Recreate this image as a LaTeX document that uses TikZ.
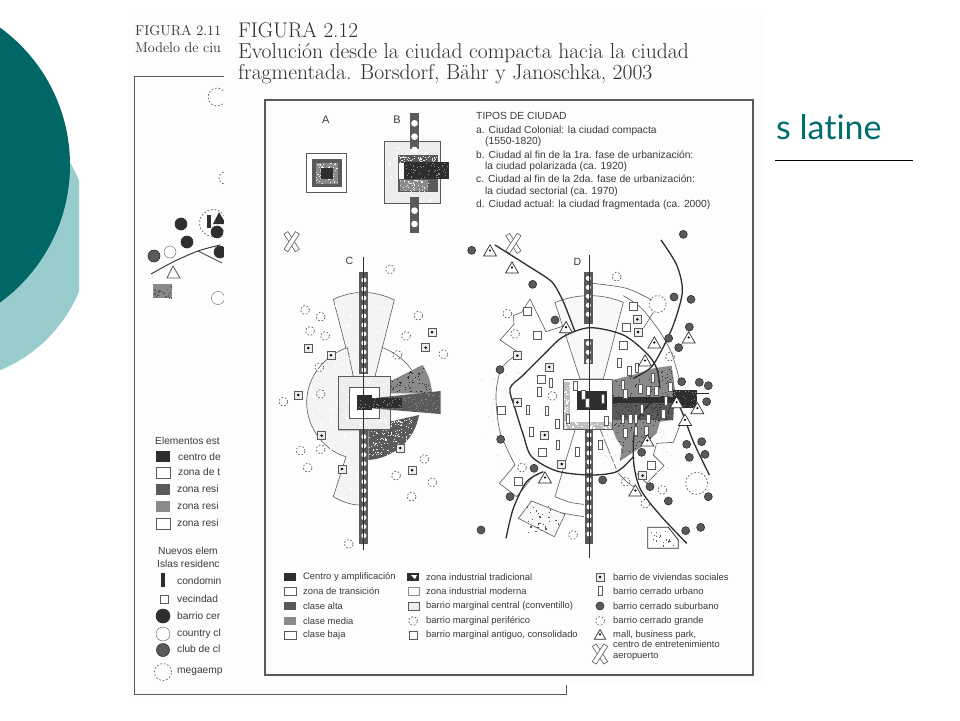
\documentclass[tikz,border=0pt]{standalone}
\usepackage{fontspec}
\usetikzlibrary{shapes.geometric}
\newfontfamily\lsans{Liberation Sans}
\newfontfamily\slide[Ligatures=NoCommon]{Lato}
\definecolor{tealD}{HTML}{006666}
\definecolor{tealL}{HTML}{99CCCC}
\definecolor{tealT}{HTML}{006E6E}
\definecolor{paper}{HTML}{FDFDFB}
\definecolor{ink}{HTML}{3A3A3A}
\definecolor{lite}{HTML}{EDEDED}
\definecolor{midg}{HTML}{8A8A8A}
\definecolor{darkg}{HTML}{5A5A5A}
\definecolor{deep}{HTML}{2E2E2E}
\tikzset{
 lbl/.style={font=\lsans\fontsize{9.4}{10}\selectfont,text=ink,anchor=west,inner sep=0pt},
 lbt/.style={font=\lsans\fontsize{10.3}{11}\selectfont,text=ink,anchor=west,inner sep=0pt},
 lbs/.style={font=\lsans\fontsize{10.2}{11}\selectfont,text=ink,anchor=west,inner sep=0pt},
 ttl/.style={font=\fontsize{21.6}{22}\selectfont,text=deep,anchor=west,inner sep=0pt},
 thin line/.style={draw=darkg,line width=.6pt},
 road/.style={draw=deep,line width=1.3pt},
 sqo/.style={rectangle,draw=darkg,fill=white,minimum size=8pt,inner sep=0pt,line width=.7pt},
 svs/.style={rectangle,draw=darkg,fill=lite,minimum size=8pt,inner sep=0pt,line width=.7pt,
   path picture={\fill[black] (path picture bounding box.center) circle (1.4pt);}},
 dsh/.style={circle,draw=darkg,dash pattern=on 1.6pt off 2pt,minimum size=9pt,inner sep=0pt,line width=.7pt},
 sub/.style={circle,fill=darkg,draw=deep,minimum size=8pt,inner sep=0pt,line width=.6pt},
 tri/.style={regular polygon,regular polygon sides=3,draw=deep,fill=white,minimum size=15pt,inner sep=0pt,line width=.7pt,
   path picture={\fill[black] (path picture bounding box.center) circle (1.2pt);}},
 slot/.style={rectangle,draw=darkg,fill=white,minimum width=3.6pt,minimum height=9pt,inner sep=0pt,line width=.6pt},
 bar/.style={rectangle,draw=darkg,fill=white,minimum width=4.6pt,minimum height=21pt,inner sep=0pt,line width=.6pt},
}
% speckle: count, x0, x1, y0, y1, colour, size
\newcommand\speck[7]{\foreach \i in {1,...,#1}{%
  \pgfmathsetmacro\sx{#2+rnd*(#3-#2)}\pgfmathsetmacro\sy{#4+rnd*(#5-#4)}%
  \fill[#6] (\sx,\sy) rectangle ++(#7,#7);}}
% corridor: x0,y0,x1,y1, first dot y, next dot y, last dot y
\newcommand\corrR{7.5}
\newcommand\corr[7]{\fill[darkg] (#1,#2) rectangle (#3,#4);
  \foreach \yy in {#5,#6,...,#7}{\fill[white] ({(#1+#3)/2},\yy) circle (\corrR);}}
\newcommand\airport[1]{\node[bar,rotate=33] at #1 {};\node[bar,rotate=-33] at #1 {};}
\begin{document}
\begin{tikzpicture}[x=1pt,y=-1pt]
\useasboundingbox (0,0) rectangle (960,720);
\fill[white] (0,0) rectangle (960,720);
% slide decoration
\begin{scope}
 \clip (0,0) rectangle (79,720);
 \fill[tealL] (-55,236) circle (145);
\end{scope}
\begin{scope}
 \clip (0,0) rectangle (79,720);
 \fill[tealD] (-100,165) circle (170);
\end{scope}
% left paper (figure 2.11)
\fill[paper] (128,15) rectangle (566,698);
\node[font=\fontsize{14.3}{15}\selectfont,text=deep,anchor=west,inner sep=0pt] (f11a) at (135,31) {FIGURA 2.11};
\node[font=\fontsize{14.2}{15}\selectfont,text=deep,anchor=west,inner sep=0pt] (f11b) at (135,48) {Modelo de ciu};
\draw[draw=darkg,line width=1pt] (230,76) -- (134,76) -- (134,694) -- (566,694) -- (566,685);
\draw[road,line width=.9pt] plot[smooth] coordinates {(151,274) (173,262) (198,251) (220,245)};
\draw[thin line,line width=.9pt] (198,251) -- (222,263);
\node[dsh,minimum size=18pt] (d1) at (217,97) {};
\node[dsh,minimum size=12pt] (d2) at (225,178) {};
\node[dsh,minimum size=27pt] (d3) at (213,223) {};
\node[sub,fill=deep,minimum size=12pt] (c1) at (181,224) {};
\node[sub,fill=deep,minimum size=12pt] (c2) at (187,242) {};
\node[sub,minimum size=12pt] (c3) at (154,256) {};
\node[circle,draw=darkg,fill=white,minimum size=12pt,inner sep=0pt] (c4) at (170,252) {};
\fill[deep] (207,215) rectangle (211,228);
\fill[deep] (213,224) -- (219,212) -- (226,224) -- cycle;
\node[sub,fill=deep,minimum size=12pt] (c5) at (217,232) {};
\node[sub,fill=deep,minimum size=12pt] (c6) at (220,252) {};
\draw[darkg,line width=.8pt] (173,266) -- (167,278) -- (180,278) -- cycle;
\fill[midg] (153,284) rectangle (172,298);
\begin{scope}\clip (153,284) rectangle (172,298);
 \speck{20}{153}{172}{284}{298}{darkg}{1.5}
\end{scope}
\node[circle,draw=darkg,fill=white,minimum size=13pt,inner sep=0pt] (c7) at (218,298) {};
% left legend
\node[lbs] (e0) at (155,441) {Elementos est};
\fill[deep] (156,451) rectangle (170,462);
\node[lbs] (e1) at (178,457) {centro de};
\draw[darkg,fill=white] (156,467) rectangle (170,478);
\node[lbs] (e2) at (178,472) {zona de t};
\fill[darkg] (156,484) rectangle (170,495);
\node[lbs] (e3) at (177,489) {zona resi};
\fill[midg] (156,501) rectangle (170,512);
\node[lbs] (e4) at (177,506) {zona resi};
\draw[darkg,fill=white] (156,518) rectangle (170,529);
\node[lbs] (e5) at (177,523) {zona resi};
\node[lbs] (e6) at (158,551) {Nuevos elem};
\node[lbs] (e7) at (157,564) {Islas residenc};
\fill[deep] (161,573) rectangle (165,587);
\node[lbs] (e8) at (177,581) {condomin};
\node[sqo] (e9s) at (164,599) {};
\node[lbs] (e9) at (177,599) {vecindad};
\node[sub,fill=deep,minimum size=14pt] (e10s) at (163,616) {};
\node[lbs] (e10) at (177,616) {barrio cer};
\node[circle,draw=darkg,fill=white,minimum size=14pt,inner sep=0pt] (e11s) at (163,634) {};
\node[lbs] (e11) at (177,634) {country cl};
\node[sub,minimum size=13pt] (e12s) at (163,650) {};
\node[lbs] (e12) at (177,649) {club de cl};
\node[dsh,minimum size=17pt] (e13s) at (163,672) {};
\node[lbs] (e13) at (177,672) {megaemp};
% right paper (figure 2.12)
\fill[paper] (224,15) rectangle (765,685);
\node[ttl,font=\fontsize{21.2}{22}\selectfont] (t1) at (238,30) {FIGURA 2.12};
\node[ttl] (t2) at (238,53) {Evolución desde la ciudad compacta hacia la ciudad};
\node[ttl] (t3) at (238,74) {fragmentada. Borsdorf, Bähr y Janoschka, 2003};
\draw[draw=darkg,line width=1.1pt] (265,100) rectangle (753,675);
% top text
\node[lbt] (tp0) at (476,116) {TIPOS DE CIUDAD};
\node[lbt] (tp1) at (476,131) {a. Ciudad Colonial: la ciudad compacta};
\node[lbt] (tp2) at (485,142) {(1550-1820)};
\node[lbt] (tp3) at (476,155) {b. Ciudad al fin de la 1ra. fase de urbanización:};
\node[lbt] (tp4) at (485,167) {la ciudad polarizada (ca. 1920)};
\node[lbt] (tp5) at (476,179) {c. Ciudad al fin de la 2da. fase de urbanización:};
\node[lbt] (tp6) at (485,192) {la ciudad sectorial (ca. 1970)};
\node[lbt] (tp7) at (476,205) {d. Ciudad actual: la ciudad fragmentada (ca. 2000)};
% A and B
\begin{scope}[shift={(300,105)},scale=1/3]
 \pgfmathsetseed{11}
 \node[lbs,anchor=center,font=\lsans\fontsize{11}{12}\selectfont] (la) at (77,45) {A};
 \node[lbs,anchor=center,font=\lsans\fontsize{11}{12}\selectfont] (lb) at (291,45) {B};
 \draw[thin line,fill=white] (20,145) rectangle (140,263);
 \fill[darkg] (37,163) rectangle (125,247);
 \fill[midg] (47,173) rectangle (115,237);
 \speck{70}{47}{112}{173}{234}{lite}{3}
 \fill[deep] (62,190) rectangle (100,222);
 \draw[thin line,fill=lite] (253,108) rectangle (422,295);
 \speck{80}{256}{418}{112}{290}{white}{4}
 \renewcommand\corrR{10}
 \corr{330}{25}{357}{133}{55}{95}{135}
 \corr{330}{277}{357}{383}{317}{357}{397}
 \fill[darkg] (295,150) rectangle (413,262);
 \fill[midg] (300,225) rectangle (385,258);
 \fill[white] (296,175) rectangle (312,222);
 \speck{60}{298}{410}{152}{170}{lite}{3}
 \speck{50}{298}{385}{225}{258}{lite}{3}
 \fill[deep] (312,170) rectangle (447,222);
 \speck{50}{315}{444}{172}{218}{midg}{3}
\end{scope}
% city C
\begin{scope}[shift={(270,230)},scale=1/3]
 \pgfmathsetseed{7}
 \node[lbs,anchor=center,font=\lsans\fontsize{10.5}{11}\selectfont] (lc) at (238,92) {C};
 \airport{(65,35)}
 \filldraw[thin line,fill=lite!60] (190,208) .. controls (250,180) and (310,180) .. (373,210) -- (315,440) -- (250,440) -- cycle;
 \filldraw[thin line,fill=lite!60] (232,353) .. controls (165,375) and (110,440) .. (110,517) .. controls (110,600) and (170,665) .. (228,680) -- (190,800) .. controls (215,815) and (245,825) .. (268,825) -- (268,600) -- (205,600) -- (205,440) -- (250,440) -- cycle;
 \draw[thin line] (335,352) .. controls (370,365) and (405,390) .. (425,420);
 \begin{scope}
  \clip (190,208) -- (373,210) -- (315,440) -- (250,440) -- cycle;
  \speck{60}{190}{373}{190}{440}{white}{5}
 \end{scope}
 \begin{scope}
  \clip (230,353) -- (110,440) -- (110,600) -- (190,800) -- (268,825) -- (268,440) -- cycle;
  \speck{120}{110}{268}{353}{825}{white}{5}
 \end{scope}
 % dark sectors
 \fill[darkg] (295,600) -- (360,598) -- (360,575) -- (447,555) .. controls (435,630) and (370,685) .. (295,690) -- cycle;
 \begin{scope}
  \clip (295,600) -- (360,598) -- (360,575) -- (447,555) .. controls (435,630) and (370,685) .. (295,690) -- cycle;
  \speck{220}{295}{450}{555}{690}{lite}{3}
 \end{scope}
 \fill[midg] (328,470) -- (458,405) .. controls (475,430) and (483,460) .. (487,490) -- (328,490) -- cycle;
 \begin{scope}
  \clip (328,470) -- (458,405) -- (487,490) -- (328,490) -- cycle;
  \speck{120}{328}{487}{405}{490}{deep}{3}
 \end{scope}
 % squares
 \draw[darkg,line width=.7pt,fill=lite] (205,440) rectangle (360,598);
 \speck{70}{208}{357}{443}{595}{white}{4}
 \draw[darkg,line width=.7pt,fill=white] (237,472) rectangle (328,565);
 % long bar
 \fill[darkg] (305,505) -- (512,483) -- (512,552) -- (305,535) -- cycle;
 \begin{scope}
  \clip (305,505) -- (512,483) -- (512,552) -- (305,535) -- cycle;
  \fill[deep] (300,505) rectangle (395,535);
  \speck{120}{305}{512}{483}{552}{midg}{3}
 \end{scope}
 \fill[deep] (260,494) rectangle (305,541);
 \speck{10}{265}{300}{500}{536}{midg}{3}
 % corridor
 \corr{268}{125}{295}{432}{150}{177}{430}
 \corr{268}{600}{295}{942}{620}{647}{940}
 \draw[deep,line width=.8pt] (281,80) -- (281,960);
 % symbols
 \foreach \p in {(105,240),(152,260),(120,303),(165,318),(148,412),(152,492),(40,515),(92,662),(152,658),(113,713),(360,118),(445,257),(408,318),(382,375),(520,373),(463,687),(378,737),(487,757),(425,800),(236,942)}
   {\node[dsh] at \p {};}
 \foreach \p in {(115,354),(183,376),(85,495),(155,617),(216,717),(391,654),(426,721),(486,307),(467,353)}
   {\node[svs] at \p {};}
\end{scope}
% city D
\begin{scope}[shift={(460,225)},scale=1/3]
 \pgfmathsetseed{5}
 \node[lbs,anchor=center,font=\lsans\fontsize{10.5}{11}\selectfont] (ld) at (352,110) {D};
 \airport{(160,55)}
 % outlines
 \filldraw[thin line,fill=lite!40] (285,233) .. controls (350,205) and (425,205) .. (490,232) -- (430,462) -- (360,462) -- cycle;
 \draw[thin line] (320,300) -- (258,320) -- (210,222) -- (185,262) -- (160,272) -- (162,298) -- (120,345) -- (175,382);
 \draw[thin line] plot[smooth] coordinates {(175,385) (125,430) (108,510) (120,620) (165,720)};
 \draw[thin line] (165,720) -- (118,775) -- (170,815) -- (215,760);
 \draw[thin line] plot[smooth] coordinates {(398,175) (500,190) (575,225)};
 \draw[thin line] (580,262) -- (550,310);
 \draw[thin line] plot[smooth] coordinates {(490,212) (545,250) (600,320)};
 \draw[thin line] plot[smooth] coordinates {(600,320) (635,385) (660,470)};
 \draw[thin line] (345,615) -- (285,815);
 \draw[thin line] plot[smooth] coordinates {(285,815) (330,832) (372,838)};
 \draw[thin line] plot[smooth] coordinates {(210,828) (290,860) (372,875)};
 \draw[thin line] (660,600) -- (640,652) -- (590,655) -- (580,690) -- (612,722) -- (560,775) -- (530,745);
 \draw[thin line] plot[smooth] coordinates {(470,740) (500,770) (530,792)};
 \draw[thin line] (420,612) -- (470,735);
 \filldraw[thin line,fill=lite!40] (215,828) -- (315,868) -- (283,935) -- (175,880) -- cycle;
 \speck{28}{195}{295}{840}{920}{darkg}{4}
 \speck{60}{420}{640}{610}{740}{lite}{5}
 \speck{60}{60}{340}{390}{730}{lite}{5}
 % mass
 \fill[midg] (458,465) -- (520,450) -- (580,430) -- (635,422) -- (645,495) -- (640,585) -- (600,590) -- (590,625) -- (545,665) -- (480,708) -- (485,665) -- (468,640) -- (458,612) -- cycle;
 \begin{scope}
  \clip (458,465) -- (520,450) -- (580,430) -- (635,422) -- (645,495) -- (640,585) -- (600,590) -- (590,625) -- (545,665) -- (480,708) -- (485,665) -- (468,640) -- (458,612) -- cycle;
  \speck{260}{458}{645}{422}{708}{deep}{3}
  \fill[darkg] (458,530) rectangle (640,585);
  \speck{110}{458}{640}{530}{585}{deep}{3}
 \end{scope}
 \fill[deep] (440,517) rectangle (640,535);
 \fill[deep] (640,495) rectangle (710,550);
 \speck{30}{640}{708}{495}{548}{midg}{3}
 \draw[deep,line width=1pt] (640,505) -- (748,505);
 % centre
 \draw[darkg,line width=.7pt,fill=white] (310,462) rectangle (458,612);
 \fill[lite!80!black] (311,470) rectangle (330,611);
 \fill[lite!80!black] (311,590) rectangle (457,611);
 \speck{40}{311}{455}{590}{608}{white}{4}
 \speck{30}{311}{328}{470}{608}{white}{4}
 \fill[deep] (352,497) rectangle (440,555);
 % corridors
 \corr{372}{140}{398}{297}{160}{187}{290}
 \corr{372}{342}{398}{417}{355}{382}{410}
 \corr{374}{615}{400}{958}{630}{657}{950}
 \draw[deep,line width=.8pt] (388,90) -- (388,1000);
 % roads
 \draw[road] plot[smooth] coordinates {(600,490) (590,430) (560,385) (490,330) (390,308) (310,335) (255,385) (190,450) (150,490) (165,550) (190,630) (215,695) (290,738) (390,750) (470,740) (520,695)};
 \draw[road] plot[smooth] coordinates {(680,955) (600,870) (540,790) (520,700) (530,590) (590,520) (650,530) (700,650) (748,750)};
 \draw[road] plot[smooth,tension=.4] coordinates {(105,60) (200,120) (275,170) (310,230) (345,320)};
 \draw[road] plot[smooth] coordinates {(603,45) (650,120) (667,200) (640,300) (600,385) (570,430) (520,460)};
 \draw[road] plot[smooth] coordinates {(138,940) (160,850) (200,770) (250,740)};
 % industrial plot
 \draw[deep,line width=.8pt,fill=white] (563,907) -- (625,907) -- (655,945) -- (655,970) -- (563,970) -- cycle;
 \speck{16}{570}{640}{915}{962}{darkg}{4}
 % symbols
 \foreach \p in {(477,412),(507,438),(530,428),(578,458),(488,478),(540,490),(565,497),(588,497),(630,484),(617,528),(609,565),(495,507),(345,483),(369,510),(382,532),(428,522),(323,581),(439,587),(488,580),(510,580),(527,580),(565,580),(545,552),(495,623),(527,618),(558,617),(420,660),(352,680),(293,660),(292,595),(260,558),(203,553),(214,620),(237,500),(272,473)}
   {\node[slot] at \p {};}
 \foreach \p in {(202,258),(232,330),(519,245),(500,308),(490,361),(245,463),(125,557),(247,683),(175,768),(573,720)}
   {\node[sqo] at \p {};}
 \foreach \p in {(532,283),(534,321),(172,392),(268,426),(172,532),(254,630),(305,717),(548,752)}
   {\node[svs] at \p {};}
 \foreach \p in {(35,76),(670,28),(218,178),(285,285),(642,216),(693,223),(688,306),(626,340),(656,368),(665,470),(718,472),(745,482),(740,530),(120,434),(122,643),(222,730),(428,765),(545,682),(680,658),(725,650),(688,697),(735,688),(570,785),(625,828),(745,815),(150,815),(63,915),(677,917),(722,907)}
   {\node[sub] at \p {};}
 \foreach \p in {(90,82),(156,133),(318,312),(583,358),(686,343),(555,412),(650,537),(712,555),(675,590),(562,652),(526,802),(255,763)}
   {\node[tri] at \p {};}
 \foreach \p in {(142,266),(165,327),(470,155),(277,513),(630,395),(186,728),(497,770),(607,795),(556,836),(339,930)}
   {\node[dsh] at \p {};}
 \node[dsh,minimum size=17pt] (bg1) at (593,237) {};
 \node[dsh,minimum size=22pt] (bg2) at (710,775) {};
\end{scope}
% bottom legend
\fill[deep] (284,573) rectangle (296,581);
\draw[darkg,fill=white] (284,587) rectangle (296,595);
\fill[darkg] (284,602) rectangle (296,610);
\fill[midg] (284,617) rectangle (296,625);
\draw[darkg,fill=white] (284,631) rectangle (296,639);
\node[lbl] (l1) at (303,577) {Centro y amplificación};
\node[lbl] (l2) at (303,591) {zona de transición};
\node[lbl] (l3) at (303,606) {clase alta};
\node[lbl] (l4) at (303,621) {clase media};
\node[lbl] (l5) at (303,635) {clase baja};
\fill[deep] (407,573) rectangle (419,581);
\fill[white] (411,575) -- (417,575) -- (415,579) -- cycle;
\draw[midg] (408,587) rectangle (419,595);
\draw[darkg,fill=lite] (408,602) rectangle (419,610);
\node[dsh] (m4) at (413,621) {};
\node[sqo] (m5) at (413,635) {};
\node[lbl] (m1) at (426,577) {zona industrial tradicional};
\node[lbl] (m2) at (426,591) {zona industrial moderna};
\node[lbl] (m3) at (426,606) {barrio marginal central (conventillo)};
\node[lbl] (m6) at (426,621) {barrio marginal periférico};
\node[lbl] (m7) at (426,635) {barrio marginal antiguo, consolidado};
\node[svs] (r1) at (600,577) {};
\node[slot] (r2) at (600,591) {};
\node[sub] (r3) at (600,606) {};
\node[dsh] (r4) at (600,621) {};
\node[tri,minimum size=13pt] (r5) at (600,636) {};
\airport{(600,654)}
\node[lbl] (n1) at (613,577) {barrio de viviendas sociales};
\node[lbl] (n2) at (613,591) {barrio cerrado urbano};
\node[lbl] (n3) at (613,606) {barrio cerrado suburbano};
\node[lbl] (n4) at (613,621) {barrio cerrado grande};
\node[lbl] (n5) at (613,635) {mall, business park,};
\node[lbl] (n6) at (613,644) {centro de entretenimiento};
\node[lbl] (n7) at (613,656) {aeropuerto};
% slide title fragment
\node[font=\slide\fontsize{34}{35}\selectfont,text=tealT,anchor=base west,inner sep=0pt] (st) at (776,139) {s latine};
\draw[black,line width=.8pt] (775,160) -- (913,160);
\end{tikzpicture}
\end{document}
